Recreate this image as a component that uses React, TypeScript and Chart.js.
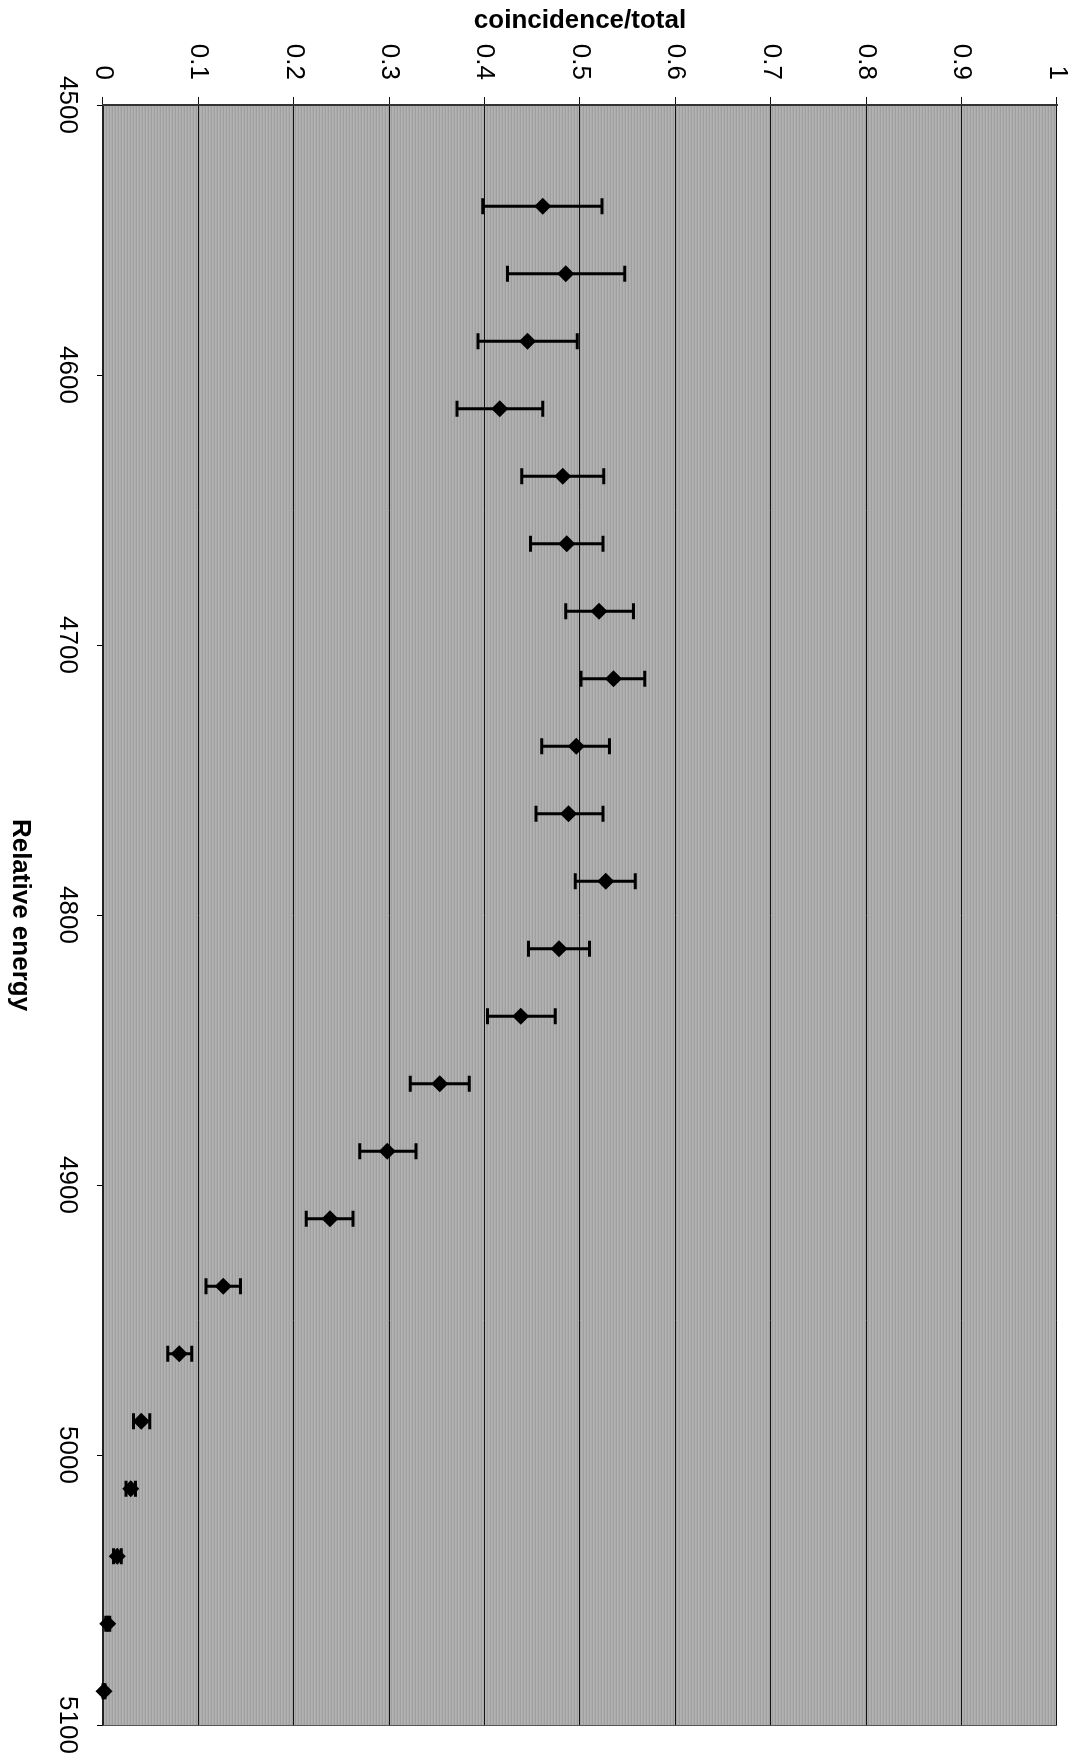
import React, { useEffect, useRef } from 'react';
import { Chart, registerables } from 'chart.js';

Chart.register(...registerables);

// Relative energy (x) of each measurement
const energies = [
  4537.5, 4562.5, 4587.5, 4612.5, 4637.5, 4662.5, 4687.5, 4712.5, 4737.5, 4762.5,
  4787.5, 4812.5, 4837.5, 4862.5, 4887.5, 4912.5, 4937.5, 4962.5, 4987.5, 5012.5,
  5037.5, 5062.5, 5087.5,
];
// coincidence/total value
const ratios = [
  0.461, 0.485, 0.445, 0.416, 0.482, 0.486, 0.52, 0.535, 0.496, 0.488,
  0.527, 0.478, 0.438, 0.353, 0.298, 0.238, 0.126, 0.08, 0.04, 0.029,
  0.015, 0.005, 0.001,
];
// lower end of error bar
const ratioLow = [
  0.398, 0.424, 0.393, 0.371, 0.439, 0.448, 0.485, 0.501, 0.46, 0.454,
  0.495, 0.446, 0.403, 0.322, 0.269, 0.213, 0.108, 0.068, 0.032, 0.024,
  0.011, 0.003, 0.0,
];
// upper end of error bar
const ratioHigh = [
  0.523, 0.547, 0.497, 0.461, 0.525, 0.524, 0.556, 0.568, 0.531, 0.524,
  0.558, 0.51, 0.474, 0.384, 0.328, 0.262, 0.144, 0.093, 0.049, 0.034,
  0.019, 0.007, 0.002,
];

const ratioTickLabels = ['0', '0.1', '0.2', '0.3', '0.4', '0.5', '0.6', '0.7', '0.8', '0.9', '1'];
const energyTickLabels = ['4500', '4600', '4700', '4800', '4900', '5000', '5100'];

const xTitle = 'Relative energy';
const yTitle = 'coincidence/total';

const W = 1760;
const H = 1076;
const FONT = '"Liberation Sans", Arial, Helvetica, sans-serif';

export default function App() {
  const ref = useRef<HTMLCanvasElement | null>(null);

  useEffect(() => {
    const canvas = ref.current;
    if (!canvas) return;

    const pc = document.createElement('canvas');
    pc.width = 1;
    pc.height = 3;
    const pctx = pc.getContext('2d')!;
    pctx.fillStyle = '#9f9f9f';
    pctx.fillRect(0, 0, 1, 1);
    pctx.fillStyle = '#acacac';
    pctx.fillRect(0, 1, 1, 1);
    pctx.fillStyle = '#b3b3b3';
    pctx.fillRect(0, 2, 1, 1);

    const bgPlugin = {
      id: 'plotBg',
      beforeDraw(chart: any) {
        const { ctx, chartArea: a } = chart;
        ctx.save();
        const pat = ctx.createPattern(pc, 'repeat');
        ctx.fillStyle = pat || '#aaaaaa';
        ctx.fillRect(a.left, a.top, a.right - a.left, a.bottom - a.top);
        ctx.restore();
      },
    };

    const errPlugin = {
      id: 'errBars',
      beforeDatasetsDraw(chart: any) {
        const { ctx, chartArea: a } = chart;
        const xs = chart.scales.x;
        const ys = chart.scales.y;
        ctx.save();
        // right outline of plot area
        ctx.strokeStyle = '#555';
        ctx.lineWidth = 1;
        ctx.beginPath();
        ctx.moveTo(a.right + 0.5, a.top);
        ctx.lineTo(a.right + 0.5, a.bottom);
        ctx.stroke();

        ctx.strokeStyle = '#000';
        ctx.lineWidth = 3;
        const cap = 8;
        for (let i = 0; i < energies.length; i++) {
          const px = xs.getPixelForValue(energies[i]);
          const y1 = ys.getPixelForValue(ratioLow[i]);
          const y2 = ys.getPixelForValue(ratioHigh[i]);
          ctx.beginPath();
          ctx.moveTo(px, y1);
          ctx.lineTo(px, y2);
          ctx.moveTo(px - cap, y1);
          ctx.lineTo(px + cap, y1);
          ctx.moveTo(px - cap, y2);
          ctx.lineTo(px + cap, y2);
          ctx.stroke();
        }
        ctx.restore();
      },
    };

    const chart = new Chart(canvas, {
      type: 'scatter',
      data: {
        datasets: [
          {
            data: energies.map((e, i) => ({ x: e, y: ratios[i] })),
            pointStyle: 'rectRot',
            pointRadius: 8.5,
            pointHoverRadius: 8.5,
            backgroundColor: '#000',
            borderColor: '#000',
            borderWidth: 0,
            showLine: false,
            clip: false,
          } as any,
        ],
      },
      options: {
        responsive: false,
        animation: false,
        devicePixelRatio: 1,
        layout: { padding: { left: 0, right: 35, top: 19, bottom: 0 } },
        plugins: {
          legend: { display: false },
          tooltip: { enabled: false },
        },
        scales: {
          x: {
            type: 'linear',
            position: 'bottom',
            min: 4500,
            max: 5100,
            afterBuildTicks: (s: any) => {
              s.ticks = energyTickLabels.map((t) => ({ value: Number(t) }));
            },
            ticks: {
              autoSkip: false,
              maxRotation: 0,
              minRotation: 0,
              padding: 14,
              color: '#000',
              font: { family: FONT, size: 26 },
              callback: (v: any) => {
                const f = energyTickLabels.find((l) => Math.abs(Number(l) - Number(v)) < 1e-6);
                return f ?? '';
              },
            },
            grid: {
              drawOnChartArea: false,
              drawTicks: true,
              tickLength: 6,
              color: '#000',
              lineWidth: 1,
            },
            border: { display: true, color: '#222', width: 2 },
            title: {
              display: true,
              text: xTitle,
              color: '#000',
              font: { family: FONT, size: 26, weight: 'bold' },
              padding: { top: 0, bottom: 5 },
            },
            afterFit: (s: any) => {
              s.height = 103;
              s.paddingLeft = 0;
              s.paddingRight = 0;
            },
          },
          y: {
            type: 'linear',
            position: 'left',
            min: 0,
            max: 1,
            afterBuildTicks: (s: any) => {
              s.ticks = ratioTickLabels.map((t) => ({ value: Number(t) }));
            },
            ticks: {
              autoSkip: false,
              padding: 17,
              color: '#000',
              font: { family: FONT, size: 26 },
              callback: (v: any) => {
                const f = ratioTickLabels.find((l) => Math.abs(Number(l) - Number(v)) < 1e-6);
                return f ?? '';
              },
            },
            grid: {
              drawOnChartArea: true,
              drawTicks: true,
              tickLength: 8,
              color: '#111',
              lineWidth: 1,
            },
            border: { display: true, color: '#333', width: 2 },
            title: {
              display: true,
              text: yTitle,
              color: '#000',
              font: { family: FONT, size: 26, weight: 'bold' },
              padding: { top: 5, bottom: 0 },
            },
            afterFit: (s: any) => {
              s.width = 105;
              s.paddingTop = 0;
              s.paddingBottom = 0;
            },
          },
        },
      } as any,
      plugins: [bgPlugin, errPlugin],
    });

    return () => {
      chart.destroy();
    };
  }, []);

  return (
    <div
      style={{
        position: 'absolute',
        left: 0,
        top: 0,
        width: H,
        height: W,
        overflow: 'hidden',
        background: '#fff',
      }}
    >
      <div
        style={{
          position: 'absolute',
          left: 0,
          top: 0,
          width: W,
          height: H,
          transform: `translate(${H}px, 0px) rotate(90deg)`,
          transformOrigin: '0 0',
        }}
      >
        <canvas ref={ref} width={W} height={H} style={{ display: 'block', width: W, height: H }} />
      </div>
    </div>
  );
}
